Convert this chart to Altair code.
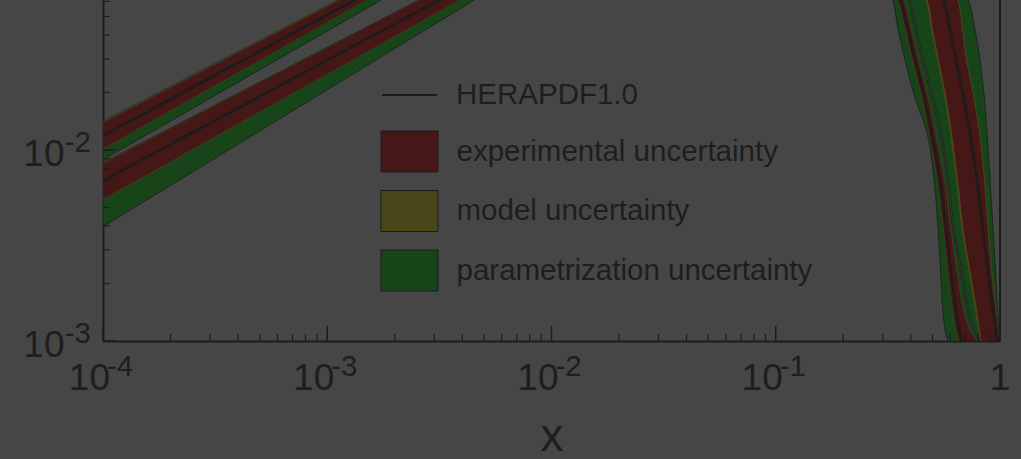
import altair as alt
import pandas as pd

# ---------------- data ----------------
# low-x bands (two PDFs rising with x)
A_x  = [1e-4, 2e-4, 5e-4, 1e-3, 2e-3, 3e-3, 5e-3]
A_gt = [0.01413, 0.02148, 0.03741, 0.05689, 0.0865, 0.1107, 0.150]
A_yt = [0.01410, 0.02140, 0.03730, 0.05670, 0.0862, 0.1103, 0.149]
A_rt = [0.01390, 0.02120, 0.03690, 0.05620, 0.0856, 0.1096, 0.148]
A_c  = [0.01189, 0.01843, 0.03293, 0.05105, 0.0791, 0.1023, 0.140]
A_rb = [0.01016, 0.01609, 0.02954, 0.04677, 0.0741, 0.0969, 0.135]
A_yb = [0.01010, 0.01600, 0.02940, 0.04660, 0.0738, 0.0965, 0.134]
A_gb = [0.00889, 0.01418, 0.02631, 0.04198, 0.0670, 0.0880, 0.125]

B_x  = [1e-4, 2e-4, 5e-4, 1e-3, 2e-3, 3e-3, 5e-3, 1e-2]
B_gt = [0.00858, 0.01304, 0.02268, 0.03447, 0.0524, 0.0669, 0.0912, 0.140]
B_yt = [0.00855, 0.01298, 0.02258, 0.03434, 0.0522, 0.0667, 0.0910, 0.139]
B_rt = [0.00848, 0.01290, 0.02248, 0.03420, 0.0521, 0.0666, 0.0908, 0.138]
B_c  = [0.00690, 0.01069, 0.01906, 0.02951, 0.0457, 0.0590, 0.0815, 0.125]
B_rb = [0.00550, 0.00867, 0.01585, 0.02500, 0.03945, 0.0515, 0.0721, 0.113]
B_yb = [0.00546, 0.00861, 0.01575, 0.02485, 0.0392, 0.0512, 0.0717, 0.112]
B_gb = [0.00397, 0.00652, 0.01258, 0.02067, 0.0340, 0.0454, 0.0655, 0.1077]

# high-x bands (two PDFs falling steeply towards x=1), x read at each y level
R_y  = [0.07, 0.062, 0.0427, 0.0297, 0.01948, 0.01232, 0.00699, 0.00369, 0.002094, 0.00134, 0.00108, 0.001, 0.0008]
C_gl = [0.3136, 0.3301, 0.3510, 0.3772, 0.4137, 0.4727, 0.5079, 0.5308, 0.5457, 0.5588, 0.5745, 0.5864, 0.6302]
C_yl = [0.3335, 0.3474, 0.3772, 0.4053, 0.4444, 0.4800, 0.5238, 0.5599, 0.5894, 0.6206, 0.6400, 0.6532, 0.6772]
C_rl = [0.3352, 0.3492, 0.3791, 0.4074, 0.4467, 0.4825, 0.5265, 0.5628, 0.5924, 0.6238, 0.6433, 0.6566, 0.6807]
C_c  = [0.3439, 0.3583, 0.3890, 0.4179, 0.4584, 0.4950, 0.5402, 0.5786, 0.6109, 0.6433, 0.6634, 0.6751, 0.6983]
C_rr = [0.3547, 0.3695, 0.4012, 0.4310, 0.4727, 0.5131, 0.5628, 0.6047, 0.6499, 0.6983, 0.7503, 0.7898, 0.8574]
C_yr = [0.3565, 0.3714, 0.4032, 0.4332, 0.4751, 0.5157, 0.5657, 0.6078, 0.6532, 0.7019, 0.7541, 0.7938, 0.8618]
C_gr = [0.3695, 0.3890, 0.4179, 0.4490, 0.4925, 0.5402, 0.5804, 0.6193, 0.6772, 0.7276, 0.7738, 0.8145, 0.8662]

D_gl = [0.3752, 0.3950, 0.4244, 0.4560, 0.5001, 0.5486, 0.5894, 0.6289, 0.6877, 0.7389, 0.7858, 0.8160, 0.8680]
D_yl = [0.4399, 0.4631, 0.4925, 0.5238, 0.5628, 0.5985, 0.6367, 0.6772, 0.7351, 0.7818, 0.8062, 0.8187, 0.8720]
D_rl = [0.4490, 0.4727, 0.5027, 0.5346, 0.5745, 0.6109, 0.6499, 0.6912, 0.7503, 0.7980, 0.8187, 0.8271, 0.8760]
D_c  = [0.5346, 0.5588, 0.5985, 0.6367, 0.6842, 0.7351, 0.7898, 0.8425, 0.8933, 0.9403, 0.9647, 0.9747, 0.9898]
D_rr = [0.6174, 0.6433, 0.6772, 0.7055, 0.7581, 0.8062, 0.8486, 0.8842, 0.9212, 0.9647, 0.9847, 0.9898, 0.9949]
D_yr = [0.6238, 0.6499, 0.6842, 0.7128, 0.7659, 0.8145, 0.8574, 0.8933, 0.9307, 0.9697, 0.9878, 0.9918, 0.9959]
D_gr = [0.6912, 0.7202, 0.7738, 0.8145, 0.8486, 0.8751, 0.9025, 0.9336, 0.9598, 0.9797, 0.9898, 0.9928, 0.9969]

levels = ["experimental uncertainty", "model uncertainty", "parametrization uncertainty"]
level_colors = ["#461717", "#4a461a", "#174419"]
central_name = "HERAPDF1.0"

x_major = [1e-4, 1e-3, 1e-2, 1e-1, 1.0]
x_minor = [m * 10.0 ** e for e in range(-4, 0) for m in range(2, 10)]
y_major = [1e-3, 1e-2]
y_minor = [m * 10.0 ** e for e in (-3, -2) for m in range(2, 10) if m * 10.0 ** e < 0.061]
x_lab_exp = ["-4", "-3", "-2", "-1"]
y_lab_exp = ["-3", "-2"]

# ---------------- tables ----------------
def left_rows(band, xs, lo, hi, level):
    return [{"x": a, "lo": b, "hi": c, "band": band, "level": level} for a, b, c in zip(xs, lo, hi)]

def right_rows(band, ys, lo, hi, level):
    return [{"y": a, "lo": b, "hi": c, "band": band, "level": level} for a, b, c in zip(ys, lo, hi)]

left = pd.DataFrame(
    left_rows("A", A_x, A_gb, A_gt, levels[2]) + left_rows("B", B_x, B_gb, B_gt, levels[2]) +
    left_rows("A", A_x, A_yb, A_yt, levels[1]) + left_rows("B", B_x, B_yb, B_yt, levels[1]) +
    left_rows("A", A_x, A_rb, A_rt, levels[0]) + left_rows("B", B_x, B_rb, B_rt, levels[0]))
right = pd.DataFrame(
    right_rows("C", R_y, C_gl, C_gr, levels[2]) + right_rows("D", R_y, D_gl, D_gr, levels[2]) +
    right_rows("C", R_y, C_yl, C_yr, levels[1]) + right_rows("D", R_y, D_yl, D_yr, levels[1]) +
    right_rows("C", R_y, C_rl, C_rr, levels[0]) + right_rows("D", R_y, D_rl, D_rr, levels[0]))
left_c = pd.DataFrame([{"x": a, "c": b, "band": "A", "curve": central_name} for a, b in zip(A_x, A_c)] +
                      [{"x": a, "c": b, "band": "B", "curve": central_name} for a, b in zip(B_x, B_c)])
right_c = pd.DataFrame([{"y": a, "c": b, "band": "C", "curve": central_name} for a, b in zip(R_y, C_c)] +
                       [{"y": a, "c": b, "band": "D", "curve": central_name} for a, b in zip(R_y, D_c)])

xt_major = pd.DataFrame({"v": x_major})
xt_minor = pd.DataFrame({"v": x_minor})
yt_major = pd.DataFrame({"v": y_major})
yt_minor = pd.DataFrame({"v": y_minor})
xlab = pd.DataFrame({"v": x_major[:-1], "base": ["10"] * 4, "exp": x_lab_exp})
xlab1 = pd.DataFrame({"v": [1.0], "base": ["1"]})
ylab = pd.DataFrame({"v": y_major, "base": ["10"] * 2, "exp": y_lab_exp})

# ---------------- styling ----------------
FONT = "Liberation Sans"
INK = "#1c1c1c"
TXT = "#1e1e1e"

xs = alt.Scale(type="log", domain=[1e-4, 1.0], nice=False)
ys = alt.Scale(type="log", domain=[1e-3, 0.06098], nice=False)
x_axis = alt.Axis(domain=True, domainColor=INK, domainWidth=2, ticks=False, labels=False, grid=False,
                  title="x", titleFont=FONT, titleFontSize=46, titleFontWeight="normal", titleColor=TXT,
                  titleY=109, titleBaseline="alphabetic")
y_axis = alt.Axis(domain=True, domainColor=INK, domainWidth=2, ticks=False, labels=False, grid=False, title=None)

def X(f):
    return alt.X(f, type="quantitative", scale=xs, axis=x_axis)

def Y(f):
    return alt.Y(f, type="quantitative", scale=ys, axis=y_axis)

fill_legend = alt.Legend(orient="none", legendX=285.5, legendY=130.5, title=None, padding=0,
                         symbolType="M-1.39,-1H1.39V1H-1.39Z", symbolSize=1681,
                         symbolStrokeColor=INK, symbolStrokeWidth=1, symbolOpacity=1,
                         labelFont=FONT, labelFontSize=29.5, labelColor=TXT, labelOffset=26,
                         rowPadding=13.5, labelLimit=600)
stroke_legend = alt.Legend(orient="none", legendX=278, legendY=66.5, title=None, padding=0,
                           symbolType="stroke", symbolSize=3025, symbolStrokeWidth=2,
                           labelFont=FONT, labelFontSize=29.5, labelColor=TXT, labelOffset=18,
                           labelLimit=600)
FILL = alt.Fill("level:N", scale=alt.Scale(domain=levels, range=level_colors), legend=fill_legend)
STROKE = alt.Stroke("curve:N", scale=alt.Scale(domain=[central_name], range=[INK]), legend=stroke_legend)

layers = []
for lev in [levels[2], levels[1], levels[0]]:
    outline = {"stroke": INK, "strokeWidth": 0.8} if lev == levels[2] else {}
    layers.append(alt.Chart(left[left.level == lev]).mark_area(clip=True, opacity=1, **outline).encode(
        x=X("x"), y=Y("lo"), y2="hi", fill=FILL, detail="band:N"))
for lev in [levels[2], levels[1], levels[0]]:
    outline = {"stroke": INK, "strokeWidth": 0.8} if lev == levels[2] else {}
    layers.append(alt.Chart(right[right.level == lev]).mark_area(
        clip=True, opacity=1, orient="horizontal", interpolate="monotone", **outline).encode(
        y=Y("y"), x=X("lo"), x2="hi", fill=FILL, detail="band:N"))
layers.append(alt.Chart(left_c).mark_line(clip=True, strokeWidth=2.6).encode(
    x=X("x"), y=Y("c"), detail="band:N", stroke=STROKE))
layers.append(alt.Chart(right_c).mark_line(clip=True, strokeWidth=2.6, interpolate="monotone").encode(
    x=X("c"), y=Y("y"), order="y:Q", detail="band:N", stroke=STROKE))

# frame at x = 1
layers.append(alt.Chart(xt_major[xt_major.v == 1.0]).mark_rule(color=INK, strokeWidth=2).encode(x=X("v")))
# inward ticks
layers.append(alt.Chart(xt_major).mark_rule(color=INK, strokeWidth=1.5).encode(
    x=X("v"), y=alt.value(341), y2=alt.value(326)))
layers.append(alt.Chart(xt_minor).mark_rule(color=INK, strokeWidth=1.2).encode(
    x=X("v"), y=alt.value(341), y2=alt.value(334)))
layers.append(alt.Chart(yt_major).mark_rule(color=INK, strokeWidth=1.5).encode(
    y=Y("v"), x=alt.value(0), x2=alt.value(13)))
layers.append(alt.Chart(yt_minor).mark_rule(color=INK, strokeWidth=1.2).encode(
    y=Y("v"), x=alt.value(0), x2=alt.value(7)))
# tick labels
layers.append(alt.Chart(xlab).mark_text(align="right", baseline="alphabetic", dx=7, font=FONT,
                                        fontSize=37, color=TXT).encode(
    x=X("v"), y=alt.value(390), text="base:N"))
layers.append(alt.Chart(xlab).mark_text(align="left", baseline="alphabetic", dx=4, font=FONT,
                                        fontSize=29.5, color=TXT).encode(
    x=X("v"), y=alt.value(376), text="exp:N"))
layers.append(alt.Chart(xlab1).mark_text(align="center", baseline="alphabetic", font=FONT,
                                         fontSize=37, color=TXT).encode(
    x=X("v"), y=alt.value(390), text="base:N"))
layers.append(alt.Chart(ylab).mark_text(align="right", baseline="alphabetic", dy=16, font=FONT,
                                        fontSize=37, color=TXT).encode(
    y=Y("v"), x=alt.value(-38.5), text="base:N"))
layers.append(alt.Chart(ylab).mark_text(align="right", baseline="alphabetic", dy=2, font=FONT,
                                        fontSize=29.5, color=TXT).encode(
    y=Y("v"), x=alt.value(-12), text="exp:N"))

chart = alt.layer(*layers).properties(
    width=897, height=341, background="#464646",
    padding={"left": 103, "top": 0, "right": 21, "bottom": 118},
    autosize=alt.AutoSizeParams(type="none"),
).configure_view(stroke=None)

chart.save("out.html", embed_options={"renderer": "svg", "actions": False})
